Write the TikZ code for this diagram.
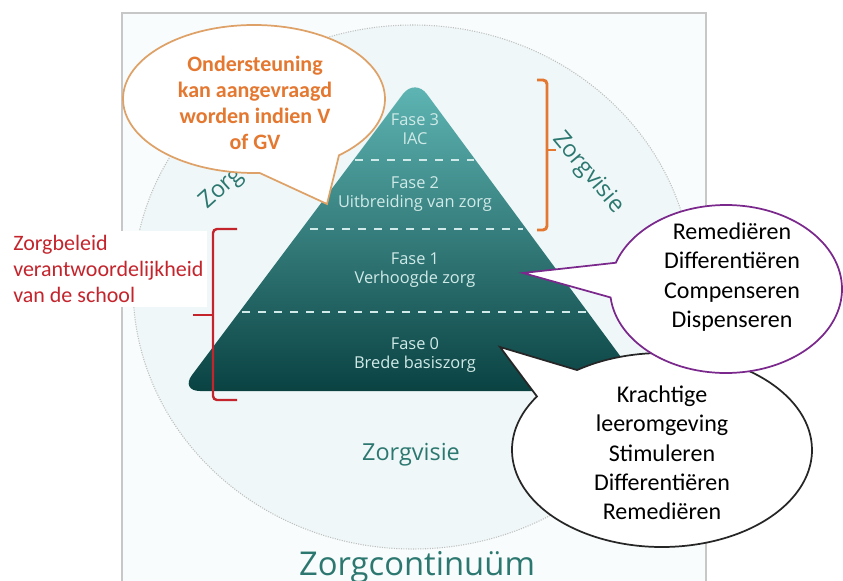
\documentclass[tikz,border=0pt]{standalone}
\usepackage{fontspec}
\setmainfont{Carlito}
\newfontfamily\opensans{Open Sans}
\usetikzlibrary{shapes.callouts,shapes.geometric}

\definecolor{teallight}{RGB}{96,184,182}
\definecolor{tealmid}{RGB}{26,128,128}
\definecolor{tealdark}{RGB}{10,66,66}
\definecolor{ringtext}{RGB}{44,120,112}
\definecolor{fasetext}{RGB}{208,234,232}
\definecolor{bracketorange}{RGB}{228,120,48}
\definecolor{bubbleorange}{RGB}{222,162,104}
\definecolor{bracketred}{RGB}{196,36,44}
\definecolor{bubblepurple}{RGB}{122,40,140}
\definecolor{framefill}{RGB}{249,252,252}
\definecolor{ringfill}{RGB}{239,247,248}

\begin{document}
\begin{tikzpicture}[x=0.75pt, y=-0.75pt,
    fase/.style={font=\opensans\fontsize{12.3}{14.3}\selectfont, text=fasetext, align=center},
    ring/.style={font=\opensans\fontsize{17.6}{20}\selectfont, text=ringtext},
    phaseline/.style={draw=white!70!teallight, line width=1.5pt, dash pattern=on 6pt off 6pt},
    bubble/.style={ellipse callout, fill=white, line width=1.3pt, inner sep=0pt},
    bubbletext/.style={align=center, font=\fontsize{18}{22}\selectfont}]
    \useasboundingbox (0,0) rectangle (843,581);

    % frame and ring
    \fill[framefill] (122,13) rectangle (706,581);
    \draw[black!22, line width=0.8pt] (122,581) -- (122,13) -- (706,13) -- (706,581);
    \draw[fill=ringfill, draw=black!25, densely dotted, line width=0.8pt] (413,287) ellipse [x radius=280, y radius=262];

    % pyramid
    \shade[top color=teallight, middle color=tealmid, bottom color=tealdark, rounded corners=15pt]
        (415,78) -- (646,391) -- (180,391) -- cycle;
    \draw[phaseline] (355,160) -- (474,160);
    \draw[phaseline] (310,229) -- (523,229);
    \draw[phaseline] (242,312) -- (588,312);

    % nodes
    \node(fase3) [fase] at (415,129) {Fase 3\\IAC};
    \node(fase2) [fase] at (415,194) {Fase 2\\Uitbreiding van zorg};
    \node(fase1) [fase] at (415,270) {Fase 1\\Verhoogde zorg};
    \node(fase0) [fase] at (415,355) {Fase 0\\Brede basiszorg};

    \node(visieleft) [ring, rotate=42, anchor=base west] at (204,213) {Zorgvisie};
    \node(visieright) [ring, rotate=-50] at (588,173) {Zorgvisie};
    \node(visiebottom) [ring] at (411,455) {Zorgvisie};
    \node(continuum) [ring, font=\opensans\fontsize{24.6}{28}\selectfont] at (417,567) {Zorgcontinuüm};

    % brackets
    \draw[bracketorange, line width=2.2pt, rounded corners=3pt] (537,80) -- (547,80) -- (547,230) -- (537,230);
    \draw[bracketorange, line width=2.2pt] (547,150) -- (556,150);
    \draw[bracketred, line width=1.8pt, rounded corners=3pt] (237,229) -- (213,229) -- (213,400) -- (237,400);
    \draw[bracketred, line width=1.8pt] (213,315) -- (193,315);

    \node(zorgbeleid) [anchor=north west, align=left, fill=white, inner sep=3pt, text=bracketred,
        font=\fontsize{16.5}{19.5}\selectfont] at (9,231) {Zorgbeleid\\verantwoordelijkheid\\van de school};

    % callouts
    \node(basis) [bubble, draw=black!85, minimum width=225pt, minimum height=145.5pt,
        callout absolute pointer={(500,347)}, callout pointer arc=22] at (662,450) {};
    \node(basistext) [bubbletext] at (662,453) {Krachtige\\leeromgeving\\Stimuleren\\Differentiëren\\Remediëren};

    \node(verhoogd) [bubble, draw=bubblepurple, minimum width=174pt, minimum height=126pt,
        callout absolute pointer={(523,273)}, callout pointer arc=24] at (726,289) {};
    \node(verhoogdtext) [bubbletext] at (732,277) {Remediëren\\Differentiëren\\Compenseren\\Dispenseren};

    \node(ondersteuning) [bubble, draw=bubbleorange, minimum width=196.5pt, minimum height=111pt,
        callout absolute pointer={(327,204)}, callout pointer arc=38] at (254,99) {};
    \node(ondersteuningtext) [bubbletext, text=bracketorange, font=\bfseries\fontsize{16.5}{19.5}\selectfont]
        at (255,103) {Ondersteuning\\kan aangevraagd\\worden indien V\\of GV};

\end{tikzpicture}
\end{document}
